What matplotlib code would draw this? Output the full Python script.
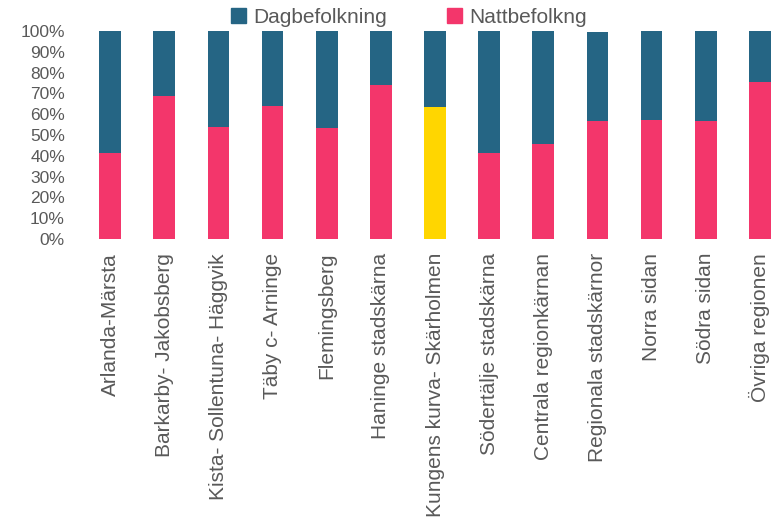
import matplotlib.pyplot as plt
from matplotlib.patches import Patch

# andel natt- och dagbefolkning per område (%)
omraden = ['Arlanda-Märsta', 'Barkarby- Jakobsberg', 'Kista- Sollentuna- Häggvik',
           'Täby c- Arninge', 'Flemingsberg', 'Haninge stadskärna',
           'Kungens kurva- Skärholmen', 'Södertälje stadskärna', 'Centrala regionkärnan',
           'Regionala stadskärnor', 'Norra sidan', 'Södra sidan', 'Övriga regionen']
natt = [41.3, 68.8, 53.8, 63.8, 53.2, 74.2, 63.5, 41.5, 45.7, 56.7, 57.4, 56.7, 75.6]
dag = [58.7, 31.2, 46.2, 36.2, 46.8, 25.8, 36.5, 58.5, 54.3, 42.8, 42.6, 43.3, 24.4]
markerad = 'Kungens kurva- Skärholmen'

BLA = '#256584'
ROSA = '#F3366B'
GUL = '#FFD600'
GRA = '#595959'

plt.rcParams['font.family'] = ['Liberation Sans', 'DejaVu Sans']

fig = plt.figure(figsize=(7.76, 5.24), dpi=100)
ax = fig.add_axes([83 / 776, (524 - 239) / 524, (787 - 83) / 776, 208 / 524])

x = list(range(len(omraden)))
farger = [GUL if o == markerad else ROSA for o in omraden]
ax.bar(x, natt, width=0.4, color=farger)
ax.bar(x, dag, width=0.4, bottom=natt, color=BLA)

ax.set_xlim(-0.5, len(omraden) - 0.5)
ax.set_ylim(0, 100)
ax.set_yticks(range(0, 101, 10))
ax.set_yticklabels([f'{v}%' for v in range(0, 101, 10)])
ax.set_xticks(x)
ax.set_xticklabels(omraden, rotation=90)
ax.tick_params(length=0, colors=GRA)
ax.tick_params(axis='y', labelsize=12.5, pad=13)
ax.tick_params(axis='x', labelsize=15, pad=10)
for s in ax.spines.values():
    s.set_visible(False)

handles = [Patch(color=BLA, label='Dagbefolkning'), Patch(color=ROSA, label='Nattbefolkng')]
fig.legend(handles=handles, loc='center', bbox_to_anchor=(409 / 776, 1 - 17 / 524), ncol=2,
           frameon=False, fontsize=15, labelcolor=GRA, handlelength=0.7, handleheight=0.7,
           handletextpad=0.35, columnspacing=2.9)

fig.savefig('out.png', dpi=100)
